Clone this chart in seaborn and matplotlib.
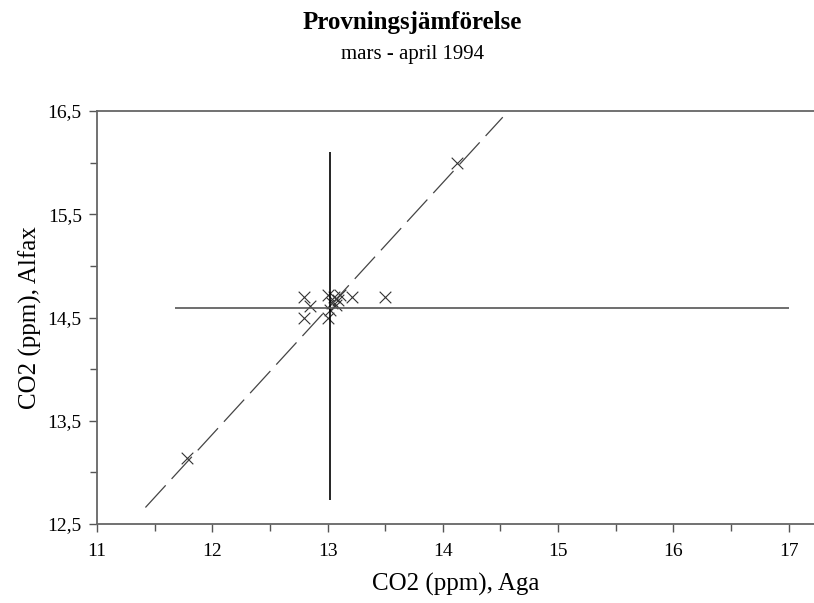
import matplotlib
matplotlib.use("Agg")
import matplotlib.pyplot as plt
import matplotlib.ticker as mticker
import pandas as pd
import seaborn as sns

# measurements: CO2 (ppm), Aga vs Alfax
aga = [11.78, 14.12, 12.80, 12.85, 12.80, 13.00, 13.00, 13.06, 13.09, 13.04,
       13.21, 13.50, 13.11, 13.02, 13.07]
alfax = [13.14, 16.00, 14.70, 14.61, 14.50, 14.50, 14.72, 14.70, 14.67, 14.64,
         14.70, 14.70, 14.72, 14.57, 14.62]

# regression line (dashed)
fit_x = [11.42, 14.52]
fit_y = [12.66, 16.44]

# cross lines (spread)
vline_x = 13.02
vline_y = [12.73, 16.10]
hline_y = 14.59
hline_x = [11.68, 17.00]

x_ticks = [11, 12, 13, 14, 15, 16, 17]
y_ticks = [12.5, 13.5, 14.5, 15.5, 16.5]

sns.set_style("ticks", {"text.color": "black", "axes.labelcolor": "black",
                        "xtick.color": "black", "ytick.color": "black"})
plt.rcParams["font.family"] = ["Liberation Serif", "DejaVu Serif"]

fig = plt.figure(figsize=(8.14, 6.03), dpi=100)
ax = fig.add_axes([97 / 814, 1 - 524 / 603, 1 - 97 / 814, (524 - 111) / 603])

df = pd.DataFrame({"aga": aga, "alfax": alfax})
fit = pd.DataFrame({"x": fit_x, "y": fit_y})

sns.lineplot(data=fit, x="x", y="y", ax=ax, color="#444444", lw=0.9,
             dashes=False, sort=False)
ax.lines[-1].set_dashes([24, 7])
ax.vlines(vline_x, vline_y[0], vline_y[1], color="black", lw=1.2)
ax.hlines(hline_y, hline_x[0], hline_x[1], color="#555555", lw=1.2)
sns.scatterplot(data=df, x="aga", y="alfax", ax=ax, marker="x", s=70,
                color="#333333", linewidth=0.8)

ax.set_xlim(11, 17.22)
ax.set_ylim(12.5, 16.5)
ax.set_xticks(x_ticks)
ax.set_yticks(y_ticks)
ax.xaxis.set_minor_locator(mticker.MultipleLocator(0.5))
ax.yaxis.set_minor_locator(mticker.FixedLocator([13, 14, 15, 16]))
ax.yaxis.set_major_formatter(mticker.FuncFormatter(lambda v, p: f"{v:.1f}".replace(".", ",")))
ax.tick_params(axis="both", which="major", labelsize=14, length=6, width=1,
               color="#555555", labelcolor="black")
ax.tick_params(axis="x", which="major", pad=8)
ax.tick_params(axis="y", which="major", pad=5)
ax.tick_params(axis="both", which="minor", length=5, width=1, color="#555555")

for side in ["left", "bottom", "top"]:
    ax.spines[side].set_color("#666666")
    ax.spines[side].set_linewidth(1.3)
ax.spines["right"].set_visible(False)

ax.set_xlabel("CO2 (ppm), Aga", fontsize=18, labelpad=9)
ax.set_ylabel("CO2 (ppm), Alfax", fontsize=18, labelpad=4)

fig.text(0.507, 0.962, "Provningsjämförelse", ha="center", va="center",
         fontsize=18, fontweight="bold")
fig.text(0.507, 0.91, "mars - april 1994", ha="center", va="center", fontsize=15)

fig.savefig("out.png", dpi=100)
